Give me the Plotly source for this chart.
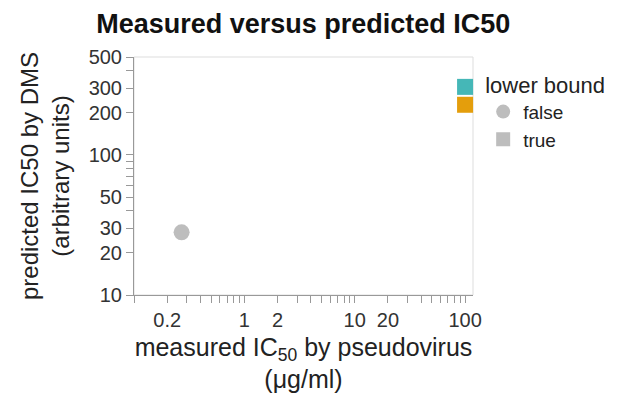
import plotly.graph_objects as go
import numpy as np

# data
measured_ic50 = [0.27, 100, 100]
predicted_ic50 = [28, 306, 228]
lower_bound = [False, True, True]
point_colors = ["#bdbdbd", "#45b7b7", "#e49e0c"]

x_tickvals = [0.1, 0.2, 0.3, 0.4, 0.5, 0.6, 0.7, 0.8, 0.9, 1, 2, 3, 4, 5, 6, 7, 8, 9,
              10, 20, 30, 40, 50, 60, 70, 80, 90, 100]
x_labeled = {0.2: "0.2", 1: "1", 2: "2", 10: "10", 20: "20", 100: "100"}
y_tickvals = [10, 20, 30, 40, 50, 60, 70, 80, 90, 100, 200, 300, 400, 500]
y_labeled = {10: "10", 20: "20", 30: "30", 50: "50", 100: "100", 200: "200", 300: "300", 500: "500"}

FONT = "Liberation Sans, Helvetica Neue, Arial, sans-serif"

fig = go.Figure()
for xv, yv, lb, c in zip(measured_ic50, predicted_ic50, lower_bound, point_colors):
    fig.add_trace(go.Scatter(
        x=[xv], y=[yv], mode="markers", showlegend=False, cliponaxis=False,
        marker=dict(symbol="square" if lb else "circle", size=16, color=c, line=dict(width=0)),
        hoverinfo="skip"))

# legend entries
for name, sym in [("false", "circle"), ("true", "square")]:
    fig.add_trace(go.Scatter(x=[None], y=[None], mode="markers", name=name,
                             marker=dict(symbol=sym, size=14, color="#bdbdbd")))

axis_common = dict(type="log", showgrid=False, zeroline=False, ticks="outside", ticklen=7,
                   tickcolor="#999999", tickwidth=1, showline=True, linecolor="#999999", linewidth=1,
                   automargin=False,
                   tickfont=dict(family=FONT, size=20, color="#333333"))

fig.update_xaxes(**axis_common, range=[np.log10(0.1), np.log10(118)],
                 tickvals=x_tickvals, ticktext=[x_labeled.get(v, "") for v in x_tickvals],
                 title=dict(text="measured IC<sub>50</sub> by pseudovirus<br>(μg/ml)",
                            font=dict(family=FONT, size=25, color="#222222"), standoff=10))
fig.update_yaxes(**axis_common, range=[1, np.log10(500)],
                 tickvals=y_tickvals, ticktext=[y_labeled.get(v, "") for v in y_tickvals],
                 title=dict(text="predicted IC50 by DMS<br>(arbitrary units)",
                            font=dict(family=FONT, size=24, color="#222222"), standoff=12))

fig.add_shape(type="rect", xref="paper", yref="paper", x0=0, x1=1, y0=0, y1=1,
              line=dict(color="#dddddd", width=1), layer="below")

fig.update_layout(
    width=619, height=393,
    margin=dict(l=134, r=146, t=57, b=98),
    paper_bgcolor="white", plot_bgcolor="white",
    title=dict(text="<b>Measured versus predicted IC50</b>", x=0.49, xanchor="center",
               y=0.94, yanchor="middle", font=dict(family=FONT, size=27, color="#111111")),
    legend=dict(title=dict(text="lower bound", font=dict(family=FONT, size=22, color="#222222")),
                font=dict(family=FONT, size=19, color="#222222"),
                x=1.03, xanchor="left", y=0.97, yanchor="top",
                itemwidth=30, tracegroupgap=0, bgcolor="rgba(0,0,0,0)"),
)

fig.write_html("out.html")
